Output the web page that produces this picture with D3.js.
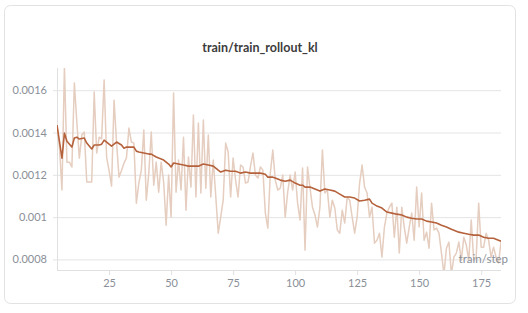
<!DOCTYPE html>
<html>
<head>
<meta charset="utf-8">
<script src="https://cdn.jsdelivr.net/npm/d3@7"></script>
<style>
  html, body { margin: 0; padding: 0; background: #ffffff; }
  svg { display: block; }
  text { font-family: Lato, "Noto Sans", sans-serif; }
</style>
</head>
<body>
<svg id="chart" width="528" height="313"></svg>
<script>
const chartTitle = "train/train_rollout_kl";
const xAxisLabel = "train/step";

const firstStep = 4;
const rawValues = [
  0.001435, 0.00133, 0.001128, 0.00171, 0.00126, 0.00126, 0.001237, 0.001634, 0.00145, 0.001279,
  0.001388, 0.001402, 0.001166, 0.001166, 0.001166, 0.001591, 0.001303, 0.001378, 0.00137, 0.001648,
  0.001284, 0.00122, 0.001147, 0.001553, 0.001355, 0.001189, 0.00122, 0.001255, 0.00128, 0.001421,
  0.001355, 0.00135, 0.001066, 0.001161, 0.001222, 0.001412, 0.00108, 0.001208, 0.001402, 0.001151,
  0.00126, 0.001118, 0.00126, 0.001166, 0.000962, 0.001199, 0.001, 0.001587, 0.001118, 0.00127,
  0.001128, 0.001378, 0.001033, 0.001284, 0.001142, 0.001483, 0.001095, 0.001445, 0.001114, 0.001459,
  0.001137, 0.001388, 0.001095, 0.00127, 0.0011, 0.000924, 0.001, 0.00108, 0.00135, 0.001308,
  0.001095, 0.001279, 0.001175, 0.001095, 0.001246, 0.001237, 0.001161, 0.001166, 0.00124, 0.001303,
  0.001199, 0.001185, 0.001237, 0.001222, 0.001019, 0.000948, 0.001208, 0.001317, 0.001175, 0.001128,
  0.001137, 0.001199, 0.001, 0.001118, 0.001199, 0.001128, 0.001213, 0.001066, 0.000986, 0.001232,
  0.000844, 0.001237, 0.001137, 0.001047, 0.00101, 0.000953, 0.001047, 0.001317, 0.001114, 0.001128,
  0.001, 0.00108, 0.001043, 0.000939, 0.000924, 0.001033, 0.000972, 0.001095, 0.00108, 0.001,
  0.000924, 0.001, 0.001161, 0.001246, 0.001142, 0.001114, 0.001, 0.001047, 0.000877, 0.000891,
  0.000924, 0.000811, 0.000953, 0.001019, 0.001047, 0.001066, 0.000905, 0.001047, 0.00083, 0.001047,
  0.000953, 0.000877, 0.000953, 0.001019, 0.000891, 0.001142, 0.000953, 0.001114, 0.000891, 0.000929,
  0.000853, 0.001066, 0.000939, 0.000948, 0.000924, 0.00083, 0.00073, 0.000853, 0.000882, 0.00073,
  0.000811, 0.00083, 0.000882, 0.000797, 0.000905, 0.000868, 0.000797, 0.000986, 0.000797, 0.000811,
  0.001066, 0.000858, 0.000858, 0.000924, 0.000891, 0.000811, 0.000858, 0.000811, 0.000783, 0.000882
];
const rawSteps = rawValues.map((_, i) => firstStep + i);

const smoothSteps = [
  4, 6, 7, 8, 10, 11, 12, 13, 15, 16, 18, 19, 21, 22, 23, 24, 26, 28, 30, 31, 32, 35, 36, 37, 39, 41, 42, 44, 45, 47,
  49, 50, 51, 53, 55, 57, 59, 61, 63, 65, 67, 69, 70, 72, 74, 76, 78, 80, 82, 84, 86, 88, 89, 90, 91, 92, 94, 96, 98, 100,
  102, 103, 104, 106, 108, 110, 112, 114, 116, 118, 120, 122, 124, 126, 128, 130, 131, 133, 135, 137, 139, 141, 143, 145, 147, 149, 151, 153, 155, 157,
  159, 161, 163, 166, 168, 170, 172, 174, 176, 178, 180, 182, 183
];
const smoothValues = [
  0.001435, 0.001279, 0.001397, 0.001359, 0.001331, 0.001374, 0.001378, 0.001369, 0.001374, 0.00135, 0.001322, 0.001341, 0.001341, 0.001345, 0.001364, 0.001355, 0.001336, 0.001355, 0.001341, 0.001326, 0.001331, 0.001331, 0.001312, 0.001308, 0.001303, 0.001298, 0.001298, 0.001284, 0.001279, 0.00127,
  0.001251, 0.001237, 0.001256, 0.001251, 0.001246, 0.001241, 0.001241, 0.001241, 0.001251, 0.001246, 0.001241, 0.001222, 0.001213, 0.001222, 0.001217, 0.001217, 0.001208, 0.001213, 0.001208, 0.001208, 0.001208, 0.001203, 0.001189, 0.001189, 0.001189, 0.001185, 0.001175, 0.00117, 0.001175, 0.001161,
  0.001151, 0.001151, 0.001142, 0.001142, 0.001133, 0.001123, 0.001133, 0.001128, 0.001123, 0.001109, 0.001095, 0.001095, 0.00109, 0.001076, 0.00108, 0.001085, 0.001066, 0.001052, 0.001043, 0.001024, 0.001019, 0.001014, 0.00101, 0.001, 0.000995, 0.000991, 0.000991, 0.000981, 0.000977, 0.000972,
  0.000962, 0.000953, 0.000943, 0.000929, 0.000924, 0.000919, 0.000915, 0.000915, 0.000905, 0.0009, 0.0009, 0.000891, 0.000886
];

const xTicks = [25, 50, 75, 100, 125, 150, 175];
const yTicks = [0.0008, 0.001, 0.0012, 0.0014, 0.0016];
const yTickLabels = ["0.0008", "0.001", "0.0012", "0.0014", "0.0016"];

const svg = d3.select("#chart");
const W = 528, H = 313;
const plot = { left: 57, right: 501, top: 68, bottom: 270 };

// card
svg.append("rect")
  .attr("x", 4.5).attr("y", 5.5).attr("width", 511).attr("height", 298)
  .attr("rx", 6).attr("ry", 6)
  .attr("fill", "#ffffff").attr("stroke", "#e2e2e2").attr("stroke-width", 1);

const x = d3.scaleLinear().domain([4, 183]).range([plot.left, plot.right]);
const y = d3.scaleLinear().domain([0.00075, 0.001705]).range([plot.bottom, plot.top]);

// title
svg.append("text")
  .attr("x", 260).attr("y", 52)
  .attr("text-anchor", "middle")
  .attr("font-size", 12.5).attr("font-weight", 700)
  .attr("fill", "#3c3c3c")
  .text(chartTitle);

// y grid + labels
const yAxis = d3.axisLeft(y)
  .tickValues(yTicks)
  .tickFormat((d, i) => yTickLabels[i])
  .tickSize(-(plot.right - plot.left) - 4)
  .tickPadding(6);
const gy = svg.append("g")
  .attr("transform", `translate(${plot.left - 4},0)`)
  .call(yAxis);
gy.select(".domain").remove();
gy.selectAll(".tick line").attr("stroke", "#e4e4e4").attr("stroke-width", 1);
gy.selectAll(".tick text").attr("fill", "#8a8f98").attr("font-size", 11)
  .attr("font-family", "Lato, 'Noto Sans', sans-serif");

// left axis line
svg.append("line")
  .attr("x1", plot.left + 0.5).attr("x2", plot.left + 0.5)
  .attr("y1", plot.top).attr("y2", plot.bottom)
  .attr("stroke", "#e0e0e0");

// x axis
const xAxis = d3.axisBottom(x).tickValues(xTicks).tickSize(5).tickPadding(4);
const gx = svg.append("g")
  .attr("transform", `translate(0,${plot.bottom})`)
  .call(xAxis);
gx.select(".domain").attr("stroke", "#e0e0e0").attr("d", `M${plot.left},0.5H${plot.right}`);
gx.selectAll(".tick line").attr("stroke", "#e0e0e0");
gx.selectAll(".tick text").attr("fill", "#8a8f98").attr("font-size", 11)
  .attr("font-family", "Lato, 'Noto Sans', sans-serif");

// clip
svg.append("clipPath").attr("id", "plotclip")
  .append("rect")
  .attr("x", plot.left).attr("y", plot.top)
  .attr("width", plot.right - plot.left).attr("height", plot.bottom - plot.top);

const line = d3.line().x(d => x(d[0])).y(d => y(d[1]));

const g = svg.append("g").attr("clip-path", "url(#plotclip)");
g.append("path")
  .datum(rawSteps.map((s, i) => [s, rawValues[i]]))
  .attr("d", line)
  .attr("fill", "none")
  .attr("stroke", "#e5cdbf")
  .attr("stroke-width", 1.5)
  .attr("stroke-linejoin", "round");

g.append("path")
  .datum(smoothSteps.map((s, i) => [s, smoothValues[i]]))
  .attr("d", line)
  .attr("fill", "none")
  .attr("stroke", "#b5623c")
  .attr("stroke-width", 1.6)
  .attr("stroke-linejoin", "round");

// x axis label
svg.append("text")
  .attr("x", 508).attr("y", 263)
  .attr("text-anchor", "end")
  .attr("font-size", 11.5)
  .attr("fill", "#8a8f98")
  .text(xAxisLabel);
</script>
</body>
</html>
